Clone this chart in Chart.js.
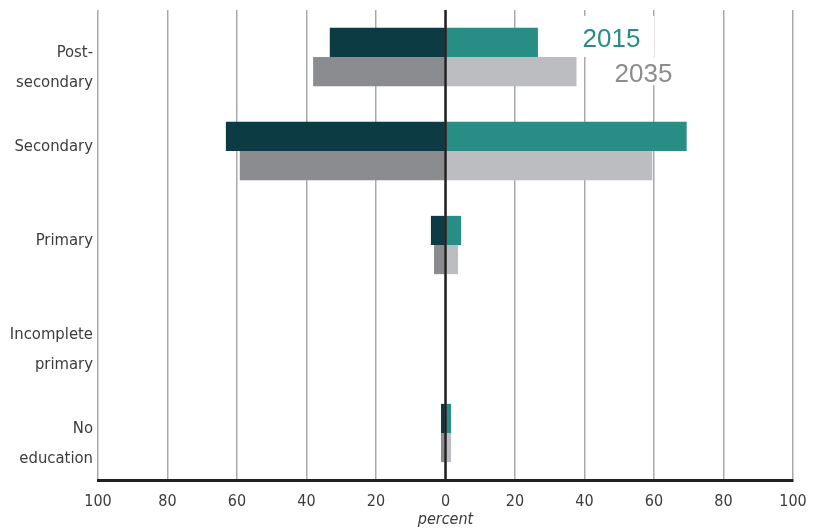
<!DOCTYPE html>
<html>
<head>
<meta charset="utf-8">
<script src="https://cdn.jsdelivr.net/npm/chart.js@4/dist/chart.umd.min.js"></script>
<style>
  html, body { margin: 0; padding: 0; background: #fff; }
  canvas { display: block; }
</style>
</head>
<body>
<canvas id="c" width="828" height="528"></canvas>
<script>
// Education levels, top to bottom
const categories = [['Post-', 'secondary'], 'Secondary', 'Primary', ['Incomplete', 'primary'], ['No', 'education']];
// Percent shares, left half and right half of the pyramid
const left2015  = [33.3, 63.2, 4.2, 0.2, 1.3];
const right2015 = [26.6, 69.4, 4.5, 0.2, 1.6];
const left2035  = [38.1, 59.2, 3.3, 0.2, 1.3];
const right2035 = [37.7, 59.5, 3.6, 0.2, 1.6];
const xTicks = [-100, -80, -60, -40, -20, 0, 20, 40, 60, 80, 100];
const yearLabels = ['2015', '2035'];

const NARROW = "'DejaVu Sans Condensed', 'Liberation Sans', sans-serif";

const COLORS = {
  left2015: '#0c3b44',
  right2015: '#288d85',
  left2035: '#8b8c8f',
  right2035: '#bcbdc0',
  grid: '#a7a9ac',
  axis: '#231f20',
  text: '#3c3c3c'
};

// Zero line on top of the bars plus the year captions
const overlay = {
  id: 'overlay',
  afterDatasetsDraw(chart) {
    const { ctx, chartArea, scales } = chart;
    const x0 = scales.x.getPixelForValue(0);
    ctx.save();
    ctx.strokeStyle = COLORS.axis;
    ctx.lineWidth = 2.5;
    ctx.beginPath();
    ctx.moveTo(x0, chartArea.top);
    ctx.lineTo(x0, chartArea.bottom);
    ctx.stroke();

    const bar15 = chart.getDatasetMeta(1).data[0];
    const bar35 = chart.getDatasetMeta(3).data[0];
    const h15 = bar15.height, h35 = bar35.height;
    const tx15 = scales.x.getPixelForValue(40) - 2;
    const tx35 = tx15 + 32;
    const by15 = bar15.y - h15 / 2 + 19;
    const by35 = bar35.y + h35 / 2 - 4;

    ctx.font = "26px 'Liberation Sans', Arial, sans-serif";
    ctx.textBaseline = 'alphabetic';
    ctx.textAlign = 'left';
    const w15 = ctx.measureText(yearLabels[0]).width;
    const w35 = ctx.measureText(yearLabels[1]).width;
    ctx.fillStyle = '#ffffff';
    ctx.fillRect(tx15 - 8, by15 - 31, w15 + 22, 41);
    ctx.fillRect(tx35 - 6, by35 - 25, w35 + 14, 28);
    ctx.fillStyle = COLORS.right2015;
    ctx.fillText(yearLabels[0], tx15, by15);
    ctx.fillStyle = '#8d8d8f';
    ctx.fillText(yearLabels[1], tx35, by35);
    ctx.restore();
  }
};

new Chart(document.getElementById('c'), {
  type: 'bar',
  data: {
    labels: categories,
    datasets: [
      { label: '2015', data: left2015.map(v => -v), backgroundColor: COLORS.left2015, stack: 's2015' },
      { label: '2015', data: right2015, backgroundColor: COLORS.right2015, stack: 's2015' },
      { label: '2035', data: left2035.map(v => -v), backgroundColor: COLORS.left2035, stack: 's2035' },
      { label: '2035', data: right2035, backgroundColor: COLORS.right2035, stack: 's2035' }
    ]
  },
  options: {
    indexAxis: 'y',
    responsive: false,
    animation: false,
    devicePixelRatio: 1,
    layout: { padding: { top: 10, right: 35, left: 0, bottom: 0 } },
    datasets: { bar: { categoryPercentage: 0.62, barPercentage: 1.0, borderWidth: 0 } },
    plugins: { legend: { display: false }, tooltip: { enabled: false } },
    scales: {
      x: {
        stacked: true,
        min: -100,
        max: 100,
        afterBuildTicks(scale) { scale.ticks = xTicks.map(v => ({ value: v })); },
        afterFit(scale) { scale.height = 48; scale.paddingLeft = 0; scale.paddingRight = 0; },
        grid: { color: COLORS.grid, lineWidth: 1.5, drawTicks: false },
        border: { display: true, color: COLORS.axis, width: 3 },
        ticks: {
          padding: 12,
          color: COLORS.text,
          font: { family: NARROW, size: 16 },
          maxRotation: 0,
          callback: v => String(Math.abs(v))
        },
        title: {
          display: true,
          text: 'percent',
          color: COLORS.text,
          padding: { top: 0, bottom: 0 },
          font: { family: NARROW, size: 16, style: 'italic', lineHeight: 1 }
        }
      },
      y: {
        stacked: true,
        afterFit(scale) { scale.width = 98; scale.paddingTop = 0; scale.paddingBottom = 0; },
        grid: { display: false, drawTicks: false },
        border: { display: false },
        ticks: {
          padding: 5,
          labelOffset: -4,
          color: COLORS.text,
          font: { family: NARROW, size: 16.5, lineHeight: 1.8 },
          callback(value) {
            const lbl = this.getLabelForValue(value);
            return Array.isArray(lbl) ? [''].concat(lbl) : lbl;
          }
        }
      }
    }
  },
  plugins: [overlay]
});
</script>
</body>
</html>
